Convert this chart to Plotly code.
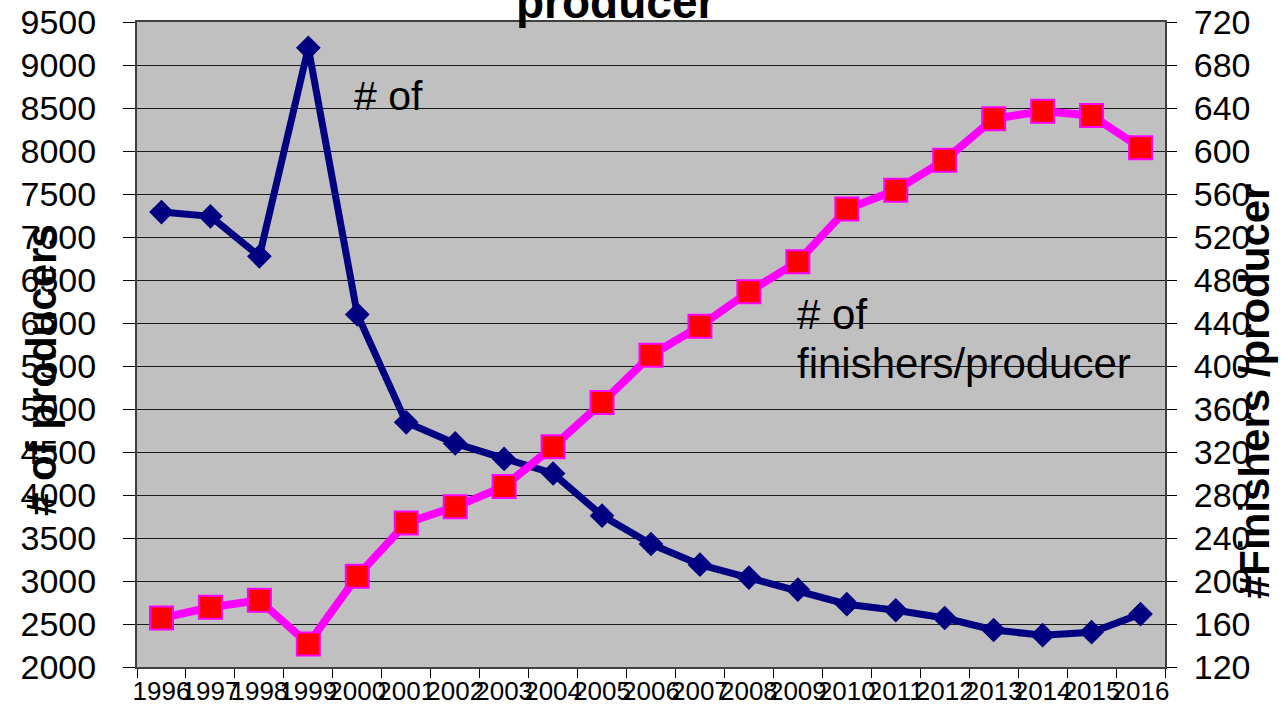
import plotly.graph_objects as go

years = [str(y) for y in range(1996, 2017)]
producers = [7290, 7240, 6775, 9200, 6100, 4845, 4600, 4420, 4250, 3760,
             3430, 3190, 3040, 2900, 2730, 2660, 2570, 2430, 2370, 2405, 2615]
finishers_per_producer = [165.5, 175.6, 182, 141.5, 204.5, 254, 269, 288, 325, 366,
                          410, 437, 469, 497, 546, 563.5, 591.5, 630, 637, 633, 603]

left_ticks = list(range(2000, 9501, 500))
right_ticks = list(range(120, 721, 40))

FONT = "Liberation Sans, Arial, sans-serif"
W, H = 1281, 711
L, R, T, B = 137, 116, 22, 44
PW, PH = W - L - R, H - T - B

def px(x):
    return (x - L) / PW

def py(y):
    return (H - B - y) / PH

fig = go.Figure()
fig.add_trace(go.Scatter(
    x=years, y=producers, mode="lines+markers", name="# of producers",
    line=dict(color="#000080", width=7),
    marker=dict(symbol="diamond", size=19, color="#000080",
                line=dict(width=0)),
    yaxis="y"))
fig.add_trace(go.Scatter(
    x=years, y=finishers_per_producer, mode="lines+markers",
    name="# of finishers/producer",
    line=dict(color="#FF00FF", width=8),
    marker=dict(symbol="square", size=23, color="#FF0000",
                line=dict(color="#FF00FF", width=2)),
    yaxis="y2"))

fig.update_layout(
    width=W, height=H,
    margin=dict(l=L, r=R, t=T, b=B, autoexpand=False),
    paper_bgcolor="white", plot_bgcolor="#C0C0C0",
    showlegend=False,
    font=dict(family=FONT, color="black"),
    xaxis=dict(type="category", tickangle=0, tickson="boundaries",
               ticks="outside", ticklen=9, tickcolor="black",
               showline=True, linecolor="#404040", linewidth=2, mirror=True,
               showgrid=False, tickfont=dict(size=26, color="black"),
               automargin=False,
               range=[-0.5, len(years) - 0.5]),
    yaxis=dict(range=[2000, 9500], tickvals=left_ticks,
               ticks="outside", ticklen=12, tickcolor="black",
               showline=True, linecolor="#404040", linewidth=2,
               showgrid=True, gridcolor="#1a1a1a", gridwidth=1,
               zeroline=False, tickfont=dict(size=34, color="black"),
               automargin=False, ticklabelstandoff=20),
    yaxis2=dict(range=[120, 720], tickvals=right_ticks, overlaying="y",
                side="right", ticks="outside", ticklen=10, tickcolor="black",
                showline=True, linecolor="#404040", linewidth=2,
                showgrid=False, zeroline=False,
                tickfont=dict(size=34, color="black"),
                automargin=False, ticklabelstandoff=10),
)

annotations = [
    dict(text="<b>producer</b>", x=px(615), y=py(2), xref="paper", yref="paper",
         xanchor="center", yanchor="middle", showarrow=False,
         font=dict(size=46, family=FONT, color="black")),
    dict(text="<b># of producers</b>", x=px(42), y=py(370), xref="paper",
         yref="paper", xanchor="center", yanchor="middle", textangle=-90,
         showarrow=False, font=dict(size=42, family=FONT, color="black")),
    dict(text="<b>#Finishers /producer</b>", x=px(1254), y=py(392), xref="paper",
         yref="paper", xanchor="center", yanchor="middle", textangle=-90,
         showarrow=False, font=dict(size=42, family=FONT, color="black")),
    dict(text="# of", x=px(352), y=py(71), xref="paper", yref="paper",
         xanchor="left", yanchor="top", showarrow=False,
         font=dict(size=41, family=FONT, color="black")),
    dict(text="# of", x=px(795), y=py(289), xref="paper",
         yref="paper", xanchor="left", yanchor="top", align="left",
         showarrow=False, font=dict(size=42, family=FONT, color="black")),
    dict(text="finishers/producer", x=px(795), y=py(338), xref="paper",
         yref="paper", xanchor="left", yanchor="top", align="left",
         showarrow=False, font=dict(size=42, family=FONT, color="black")),
]
fig.update_layout(annotations=annotations)

fig.write_html("out.html",
               config={"displayModeBar": False},
               post_script="document.body.style.margin='0px';")
